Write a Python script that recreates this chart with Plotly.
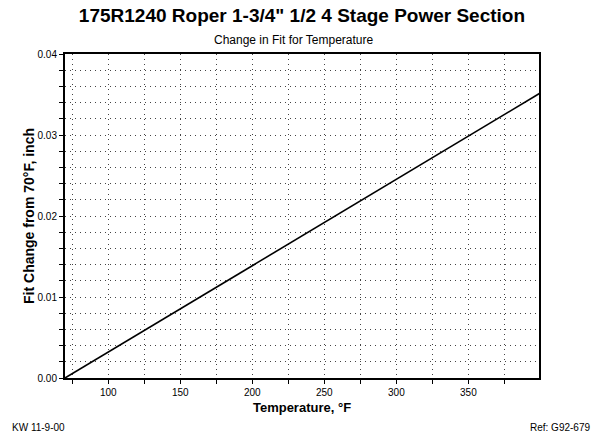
import plotly.graph_objects as go

# temperature (F) vs change in fit (inch)
temp_f = [70, 100, 150, 200, 250, 300, 350, 400]
fit_change_in = [0.0, 0.0032, 0.0085, 0.0139, 0.0192, 0.0245, 0.0299, 0.0352]

title_text = '175R1240 Roper 1-3/4" 1/2 4 Stage Power Section'
subtitle_text = 'Change in Fit for Temperature'
x_title = 'Temperature, °F'
y_title = 'Fit Change from 70°F, inch'
note_left = 'KW 11-9-00'
note_right = 'Ref: G92-679'

font = 'Liberation Sans, Arial, sans-serif'
dots = '1px,4px'
grid_col = '#444'

fig = go.Figure()
fig.add_trace(go.Scatter(x=temp_f, y=fit_change_in, mode='lines',
                         line=dict(color='black', width=1.6), showlegend=False))

axis_common = dict(showline=True, linecolor='black', linewidth=2, mirror=True,
                   ticks='outside', ticklen=4, tickcolor='black', tickwidth=1,
                   showgrid=True, gridcolor=grid_col, gridwidth=1, griddash=dots,
                   zeroline=False, tickfont=dict(family=font, size=10, color='black'))

fig.update_xaxes(range=[70, 399], tick0=100, dtick=50,
                 minor=dict(tick0=75, dtick=25, ticks='outside', ticklen=4, tickcolor='black',
                            showgrid=True, gridcolor=grid_col, griddash=dots, gridwidth=1),
                 title=dict(text='<b>%s</b>' % x_title, font=dict(family=font, size=13, color='black'),
                            standoff=6),
                 **axis_common)
fig.update_yaxes(range=[0, 0.04], tick0=0, dtick=0.01, tickformat='.2f',
                 minor=dict(dtick=0.002, ticks='outside', ticklen=4, tickcolor='black',
                            showgrid=True, gridcolor=grid_col, griddash=dots, gridwidth=1),
                 title=dict(text='<b>%s</b>' % y_title, font=dict(family=font, size=14, color='black'),
                            standoff=0),
                 **axis_common)

fig.update_layout(
    width=606, height=438,
    margin=dict(l=65, r=67, t=54, b=60),
    paper_bgcolor='white', plot_bgcolor='white',
    font=dict(family=font, color='black'),
    title=dict(text='<b>%s</b>' % title_text, x=0.4983, xanchor='center', y=0.9658, yanchor='middle',
               font=dict(family=font, size=19, color='black')),
)
fig.add_annotation(text=subtitle_text, xref='paper', yref='paper', x=0.483, y=1.0, yshift=14,
                   xanchor='center', yanchor='middle', showarrow=False,
                   font=dict(family=font, size=12, color='black'))
fig.add_annotation(text=note_left, xref='paper', yref='paper', x=0, xshift=-55, y=0, yshift=-49,
                   xanchor='left', yanchor='middle', showarrow=False,
                   font=dict(family=font, size=10, color='black'))
fig.add_annotation(text=note_right, xref='paper', yref='paper', x=1, xshift=53, y=0, yshift=-49,
                   xanchor='right', yanchor='middle', showarrow=False,
                   font=dict(family=font, size=10, color='black'))

# drop the browser's default body margin so the figure fills the window
fig.write_html("out.html", config={'displayModeBar': False},
               post_script="document.body.style.margin='0';")
